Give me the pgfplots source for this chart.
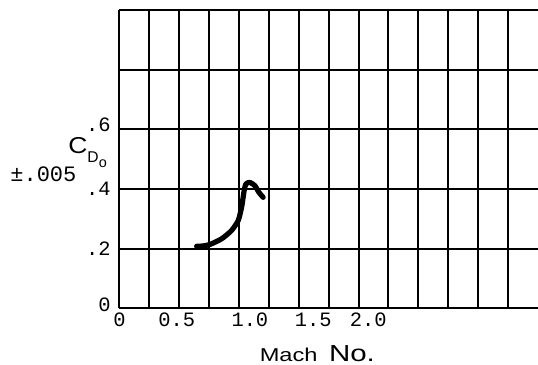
\documentclass[border=0pt]{standalone}
\usepackage{fontspec}
\setmainfont{Liberation Sans}
\newfontfamily\tw{Liberation Mono}
\usepackage{pgfplots}
\pgfplotsset{compat=1.18}
\begin{document}
\begin{tikzpicture}
\useasboundingbox (-59.7pt,-28.35pt) rectangle (209.3pt,154.15pt);
\begin{axis}[
  scale only axis,
  width=209.3pt, height=149.15pt,
  at={(0,0)}, anchor=south west,
  xmin=0, xmax=3.5, ymin=0, ymax=1,
  axis lines*=left,
  axis line style={black, line width=1pt},
  xtick={0,0.479,1.091,1.62,2.08},
  xticklabels={0,0.5,1.0,1.5,2.0},
  minor xtick={0.25,0.5,0.75,1,1.25,1.5,1.75,2,2.25,2.5,2.75,3,3.25},
  xminorgrids,
  ytick={0,0.2,0.4,0.6,0.8,1.0},
  yticklabels={\raisebox{4pt}{0},.2,\raisebox{-0.5pt}{.4}\hspace{-3.5pt},\raisebox{4.5pt}{.6},,},
  ymajorgrids,
  major tick length=0pt, minor tick length=0pt,
  grid style={black, line width=1pt},
  minor grid style={black, line width=1pt},
  /pgf/number format/assume math mode=true,
  xticklabel style={font=\tw\fontsize{10.2}{10.2}\selectfont, anchor=base, inner sep=0pt, yshift=-9.2pt},
  yticklabel style={font=\tw\fontsize{10.2}{10.2}\selectfont, anchor=east, inner sep=0pt, xshift=-4.2pt},
  clip=false,
]
\addplot[black, line width=2.6pt, smooth, tension=0.4, line cap=round, line join=round] coordinates {
 (0.646,0.208) (0.698,0.209) (0.757,0.214) (0.855,0.233) (0.938,0.261)
 (0.993,0.294) (1.022,0.339) (1.043,0.394) (1.058,0.417) (1.091,0.422)
 (1.133,0.411) (1.166,0.389) (1.202,0.372)
};
\node[anchor=base, inner sep=0pt] at (axis cs:1.655,0) [yshift=-26.7pt]
  {\scalebox{1.27}[1]{\fontsize{9.3}{9.3}\selectfont Mach\hspace{4.5pt}\fontsize{11.6}{11.6}\selectfont No.}};
\node[anchor=base west, inner sep=0pt] at (axis cs:0,0.518) [xshift=-25.7pt]
  {\scalebox{1.15}[1]{\fontsize{11.5}{11.5}\selectfont C}\raisebox{-4.5pt}{\fontsize{7.8}{7.8}\selectfont D\raisebox{-2.5pt}{\fontsize{7.2}{7.2}\selectfont o}}};
\node[anchor=base west, inner sep=0pt, font=\tw\fontsize{11}{11}\selectfont] at (axis cs:0,0.425) [xshift=-54.7pt] {±.005};
\end{axis}
\end{tikzpicture}
\end{document}
